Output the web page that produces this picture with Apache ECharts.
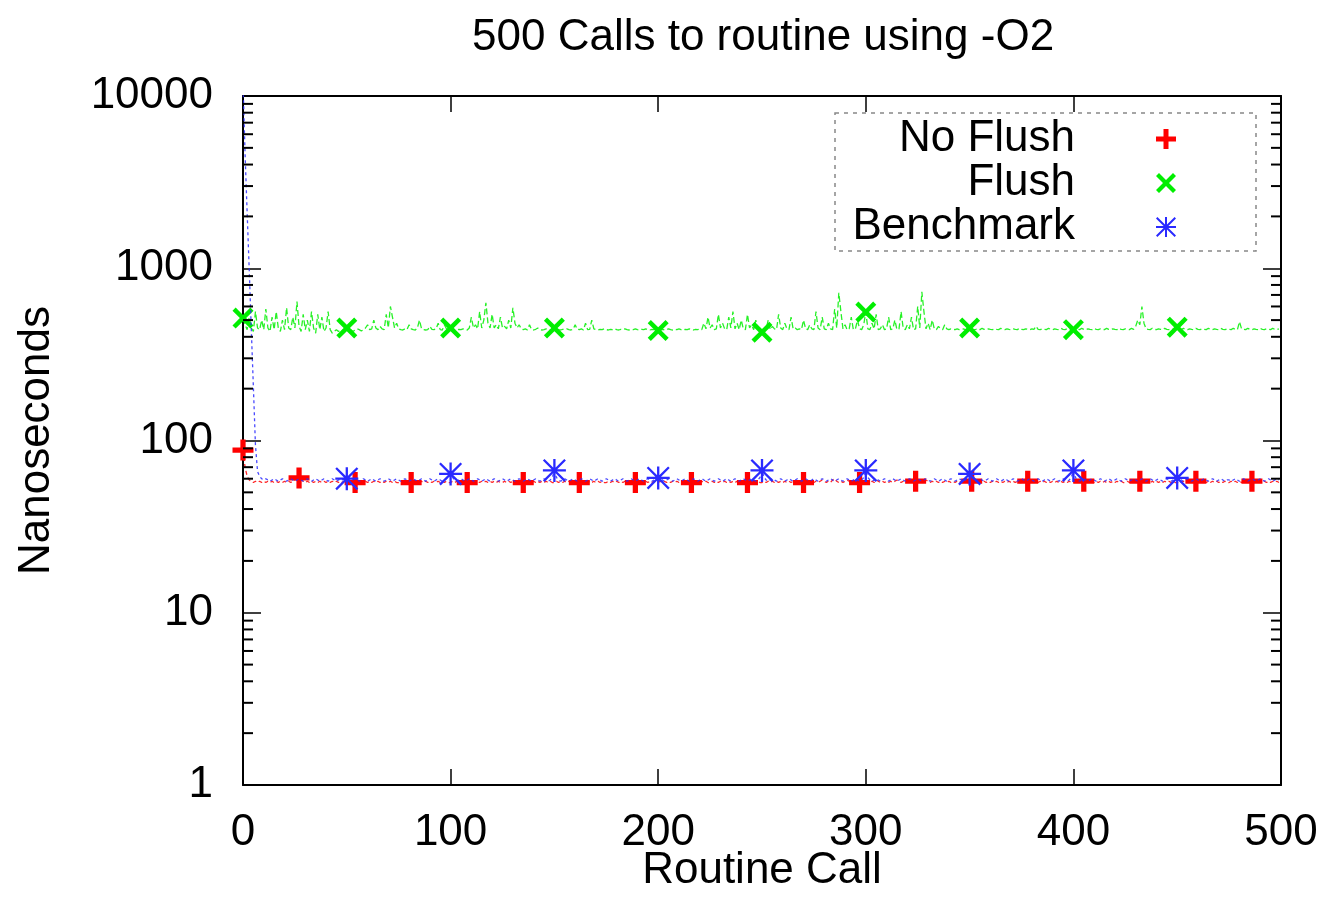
<!DOCTYPE html>
<html><head><meta charset="utf-8">
<script src="https://cdn.jsdelivr.net/npm/echarts@6/dist/echarts.min.js"></script>
<style>html,body{margin:0;padding:0;background:#fff}#c{width:1328px;height:916px}</style>
</head><body><div id="c"></div>
<script>
const titleText = '500 Calls to routine using -O2';
const xAxisName = 'Routine Call';
const yAxisName = 'Nanoseconds';
const seriesNames = ['No Flush', 'Flush', 'Benchmark'];
const xTicks = [0, 100, 200, 300, 400, 500];
const yTickLabels = [1, 10, 100, 1000, 10000];
const yMinorTicks = [2,3,4,5,6,7,8,9,20,30,40,50,60,70,80,90,200,300,400,500,600,700,800,900,2000,3000,4000,5000,6000,7000,8000,9000];
// gnuplot "pointinterval": a marker every N samples
const pointInterval = [27, 50, 50];

const noFlush = [
88,70,62,59,58,57,58,57,58,57,58,57,58,57,58,57,58,57,58,57,58,57,58,57,58,
59,60,60.6,59,58,57,58,57,58,57,58,57,58,57,58,57,58,57,58,57,58,57,58,57,58,
57,58,57,58,57,58,57,58,57,58,57,58,57,58,57,58,57,58,57,58,57,58,57,58,57,
57,58,57,58,57,58,57,58,57,58,57,58,57,58,57,58,57,58,57,58,57,58,57,58,57,
57,58,57,58,57,58,57,58,57,58,57,58,57,58,57,58,57,58,57,58,57,58,57,58,57,
57,58,57,58,57,58,57,58,57,58,57,58,57,58,57,58,57,58,57,58,57,58,57,58,57,
57,58,57,58,57,58,57,58,57,58,57,58,57,58,57,58,57,58,57,58,57,58,57,58,57,
57,58,57,58,57,58,57,58,57,58,57,58,57,58,57,58,57,58,57,58,57,58,57,58,57,
57,58,57,58,57,58,57,58,57,58,57,58,57,58,57,58,57,58,57,58,57,58,57,58,57,
57,58,57,58,57,58,57,58,57,58,57,58,57,58,57,58,57,58,57,58,57,58,57,58,57,
57,58,57,58,57,58,57,58,57,58,57,58,57,58,57,58,57,58,57,58,57,58,57,58,57,
57,58,57,58,59,58,57,58,57,59,60,58,57,58,57,58,59,58,57,58,57,58,57,58,57,
57,58,57,58,57,59,58,57,58,57,58,57,58,57,58,59,58,57,58,57,58,57,58,57,58,
57,58,59,60,59,58,57,58,57,58,57,58,57,58,57,58,57,58,57,58,57,58,57,58,57,
57,58,57,58,57,58,57,58,57,58,57,58,57,58,57,58,57,58,57,58,57,58,57,58,57,
57,58,57,58,57,58,57,58,57,58,57,58,57,58,57,58,57,58,57,58,57,58,57,58,57,
57,58,57,58,57,58,57,58,57,58,57,58,57,58,57,58,57,58,57,58,57,58,57,58,57,
57,58,57,58,57,58,57,58,57,58,57,58,57,58,57,58,57,58,57,58,57,58,57,58,57,
57,58,57,58,57,58,57,58,57,58,57,58,57,58,57,58,57,58,57,58,57,58,57,58,57,
57,58,57,58,57,58,57,58,57,58,57,58,57,58,57,58,57,58,57,58,57,58,57,58,57
];

const flush = [
514,470,440,520,450,430,560,450,440,500,440,580,450,430,520,440,560,450,430,500,
440,590,450,440,520,450,640,460,430,540,440,500,430,560,450,420,540,440,520,430,
450,560,440,420,430,440,430,440,435,440,450,445,440,430,438,445,440,432,440,450,
470,440,445,500,450,440,460,445,440,540,450,600,520,450,480,445,440,438,445,440,
470,445,440,438,450,500,445,440,438,440,460,442,440,445,480,440,438,470,445,440,
450,445,440,438,442,440,445,440,438,450,520,450,470,445,560,450,500,630,480,450,
540,450,470,445,520,450,460,445,500,450,590,480,450,470,445,440,445,438,470,440,
438,442,450,440,438,440,445,440,438,442,450,445,440,438,442,440,445,440,438,442,
470,442,440,445,438,480,440,442,500,445,440,438,442,440,445,440,438,442,440,445,
440,438,442,440,445,440,438,442,440,445,440,438,442,440,445,440,438,442,440,438,
435,440,442,438,440,445,440,438,442,440,445,440,438,442,440,445,440,438,442,440,
445,440,480,445,520,450,470,440,445,540,450,480,445,440,520,450,560,445,480,440,
500,445,440,540,450,470,440,500,445,440,425,440,445,500,440,460,445,440,540,450,
440,480,445,440,520,445,450,440,445,440,500,445,440,470,445,440,560,450,440,520,
445,440,480,445,440,580,450,720,560,445,470,440,445,520,440,445,500,445,440,470,
557,445,440,480,445,540,440,445,470,440,445,520,440,445,500,440,445,560,450,440,
470,445,520,440,445,600,450,730,560,445,480,440,500,445,440,460,445,440,470,445,
440,445,442,440,445,440,442,445,440,442,450,445,440,442,445,440,448,442,440,445,
442,440,445,442,440,448,442,440,445,442,440,445,442,440,448,442,440,445,442,440,
445,442,460,442,440,445,442,440,448,442,440,445,442,440,448,442,440,445,442,440,
440,445,442,440,448,442,440,445,442,440,448,442,440,445,442,440,448,442,440,445,
442,440,448,442,440,445,442,440,448,442,460,500,470,600,480,445,442,440,448,442,
440,445,442,440,448,442,440,445,442,440,455,442,440,448,442,440,445,442,440,448,
442,440,445,442,440,448,442,440,445,442,440,448,442,440,445,442,440,448,442,440,
490,445,442,440,448,442,440,445,442,440,448,442,440,445,442,440,448,442,440,445
];

const benchmark = [
12000,4600,2100,980,440,205,94,66,62,60,59,60,59,58,59,60,59,58,59,60,59,58,59,60,59,
58,59,60,59,58,59,60,59,58,59,60,59,58,59,60,59,58,59,60,59,58,59,60,59,60,
60,59,58,59,60,59,58,59,60,59,58,59,60,59,58,59,60,59,58,59,60,59,58,59,60,
59,58,59,60,59,58,59,60,59,58,59,60,59,58,59,60,59,58,59,60,59,58,59,60,61,
64,61,59,58,59,60,59,58,59,60,59,58,59,60,59,58,59,60,59,58,59,60,59,58,59,
60,59,58,59,60,59,58,59,60,59,58,59,60,59,58,59,60,59,58,59,60,59,58,59,61,
67,61,59,58,59,60,59,58,59,60,59,58,59,60,59,58,59,60,59,58,59,60,59,58,59,
60,59,58,59,60,59,58,59,60,59,58,59,60,59,58,59,60,59,58,59,60,59,58,59,60,
60.6,61,59,58,59,60,59,58,59,60,59,58,59,60,59,58,59,60,59,58,59,60,59,58,59,
60,59,58,59,60,59,58,59,60,59,58,59,60,59,58,59,60,59,58,59,60,59,58,59,61,
67,61,59,58,59,60,59,58,59,60,59,58,59,60,59,58,59,60,59,58,59,60,59,58,59,
60,59,58,59,60,59,58,59,60,59,58,59,60,59,58,59,60,59,58,59,60,59,58,59,61,
67,61,59,58,59,60,59,58,59,60,59,58,59,60,59,58,59,60,59,58,59,60,59,58,59,
60,59,58,59,60,59,58,59,60,59,58,59,60,59,58,59,60,59,58,59,60,59,58,59,61,
64,61,59,58,59,60,59,58,59,60,59,58,59,60,59,58,59,60,59,58,59,60,59,58,59,
60,59,58,59,60,59,58,59,60,59,58,59,60,59,58,59,60,59,58,59,60,59,58,59,61,
67,61,59,58,59,60,59,58,59,60,59,58,59,60,59,58,59,60,59,58,59,60,59,58,59,
60,59,58,59,60,59,58,59,60,59,58,59,60,59,58,59,60,59,58,59,60,59,58,59,60,
60.6,61,59,58,59,60,59,58,59,60,59,58,59,60,59,58,59,60,59,58,59,60,59,58,59,
59,58,59,60,59,58,59,60,59,58,59,60,59,58,59,60,59,58,59,60,59,58,59,60,59
];

const FONT = '"Liberation Sans", Arial, Helvetica, sans-serif';
const FS = 44;
const PLUS = 'path://M3,0h2v3h3v2h-3v3h-2v-3h-3v-2h3z';
const CROSS = 'path://M0,1.5L1.5,0L5,3.5L8.5,0L10,1.5L6.5,5L10,8.5L8.5,10L5,6.5L1.5,10L0,8.5L3.5,5Z';
const STAR = 'path://M4.5,0h1v4.5h4.5v1h-4.5v4.5h-1v-4.5h-4.5v-1h4.5zM0,0.7L0.7,0L5,4.3L9.3,0L10,0.7L5.7,5L10,9.3L9.3,10L5,5.7L0.7,10L0,9.3L4.3,5Z';
const symbols = [PLUS, CROSS, STAR];
const colors = ['#ff0000', '#00ee00', '#2a2aff'];
const dashes = [[4, 3], [6, 3], [3, 3]];
const symSizes = [21, 21, 23];
const allData = [noFlush, flush, benchmark];

const chart = echarts.init(document.getElementById('c'), null, {renderer: 'canvas'});

const lineSeries = allData.map((arr, k) => ({
  type: 'line',
  name: seriesNames[k],
  data: arr.map((v, i) => [i, v]),
  showSymbol: true,
  showAllSymbol: true,
  symbol: (val, p) => (p.dataIndex % pointInterval[k] === 0 ? symbols[k] : 'none'),
  symbolSize: symSizes[k],
  clip: true,
  itemStyle: {color: colors[k], borderWidth: 0},
  lineStyle: {color: colors[k], width: 1.3, type: dashes[k], opacity: 0.85},
  emphasis: {disabled: true},
  z: 3 + k
}));

const minorTickSeries = {
  type: 'custom',
  name: 'minor',
  silent: true,
  clip: false,
  data: yMinorTicks.map(v => [xTicks[0], v]),
  renderItem: (params, api) => {
    const v = api.value(1);
    const L = api.coord([xTicks[0], v]);
    const R = api.coord([xTicks[xTicks.length - 1], v]);
    return {
      type: 'group',
      children: [
        {type: 'line', shape: {x1: L[0], y1: L[1], x2: L[0] + 10, y2: L[1]}, style: {stroke: '#000', lineWidth: 2}},
        {type: 'line', shape: {x1: R[0] - 10, y1: R[1], x2: R[0], y2: R[1]}, style: {stroke: '#000', lineWidth: 2}}
      ]
    };
  },
  z: 10
};

const axisCommon = {
  axisLine: {show: true, onZero: false, lineStyle: {color: '#000', width: 2}},
  splitLine: {show: false}
};

chart.setOption({
  animation: false,
  backgroundColor: '#fff',
  textStyle: {fontFamily: FONT},
  title: {
    text: titleText,
    left: 467, top: 11,
    textStyle: {fontSize: FS, fontWeight: 'normal', color: '#000', fontFamily: FONT, lineHeight: FS}
  },
  grid: {left: 243, right: 47, top: 96, bottom: 131, containLabel: false, outerBoundsMode: 'none'},
  legend: {
    orient: 'vertical',
    left: 835, top: 113,
    align: 'right',
    itemWidth: 172, itemHeight: 20, itemGap: 0,
    padding: [4, 80, 2, 14],
    borderColor: '#888', borderWidth: 1.5, borderType: [4, 5],
    selectedMode: false,
    textStyle: {fontSize: FS, lineHeight: FS, width: 226, align: 'right', color: '#000', fontFamily: FONT},
    data: seriesNames.map((n, k) => ({name: n, icon: symbols[k]}))
  },
  xAxis: [
    Object.assign({}, axisCommon, {
      type: 'value', position: 'bottom',
      min: xTicks[0], max: xTicks[xTicks.length - 1], interval: xTicks[1] - xTicks[0],
      name: xAxisName, nameLocation: 'middle', nameGap: 64, nameMoveOverlap: false,
      nameTextStyle: {fontSize: FS, color: '#000', fontFamily: FONT, lineHeight: FS},
      axisTick: {show: true, inside: true, length: 16, lineStyle: {color: '#000', width: 1.5}},
      axisLabel: {fontSize: FS, color: '#000', margin: 26, fontFamily: FONT, lineHeight: FS}
    }),
    Object.assign({}, axisCommon, {
      type: 'value', position: 'top',
      min: xTicks[0], max: xTicks[xTicks.length - 1], interval: xTicks[1] - xTicks[0],
      axisTick: {show: true, inside: true, length: 16, lineStyle: {color: '#000', width: 1.5}},
      axisLabel: {show: false}
    })
  ],
  yAxis: [
    Object.assign({}, axisCommon, {
      type: 'log', logBase: 10, position: 'left',
      min: yTickLabels[0], max: yTickLabels[yTickLabels.length - 1],
      name: yAxisName, nameLocation: 'middle', nameGap: 184, nameRotate: 90, nameMoveOverlap: false,
      nameTextStyle: {fontSize: FS, color: '#000', fontFamily: FONT, lineHeight: FS},
      axisTick: {show: true, inside: true, length: 18, lineStyle: {color: '#000', width: 1.5}},
      axisLabel: {fontSize: FS, color: '#000', margin: 30, fontFamily: FONT,
        formatter: v => String(yTickLabels.reduce((a, b) => Math.abs(b - v) < Math.abs(a - v) ? b : a))}
    }),
    Object.assign({}, axisCommon, {
      type: 'log', logBase: 10, position: 'right',
      min: yTickLabels[0], max: yTickLabels[yTickLabels.length - 1],
      axisTick: {show: true, inside: true, length: 18, lineStyle: {color: '#000', width: 1.5}},
      axisLabel: {show: false}
    })
  ],
  series: lineSeries.concat([minorTickSeries])
});
</script>
</body></html>
